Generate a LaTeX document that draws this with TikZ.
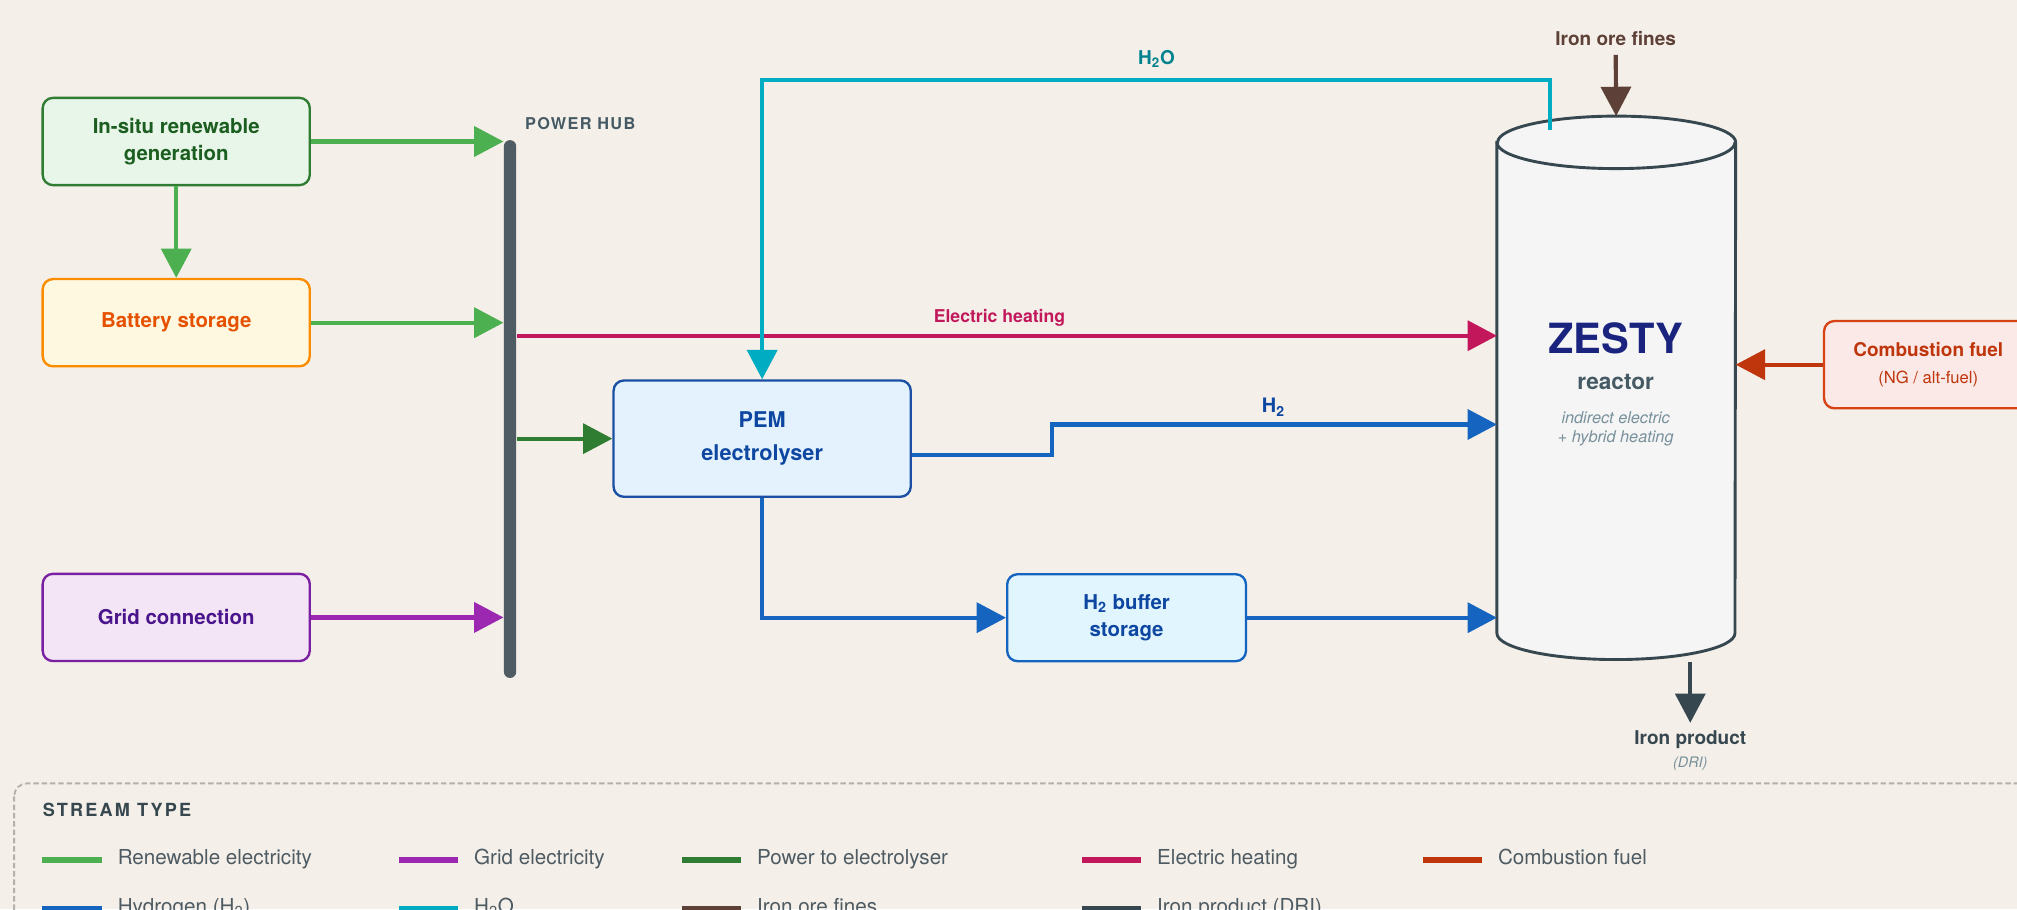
\documentclass[tikz,border=0pt]{standalone}
\usepackage{fontspec}
\setmainfont{TeX Gyre Heros}
\usetikzlibrary{arrows.meta,positioning}

\definecolor{paper}{HTML}{F4EFE8}
\definecolor{renewcol}{HTML}{4CAF50}
\definecolor{gridcol}{HTML}{9C27B0}
\definecolor{powercol}{HTML}{2E7D32}
\definecolor{heatcol}{HTML}{C2185B}
\definecolor{fuelcol}{HTML}{BF360C}
\definecolor{hydrocol}{HTML}{1565C0}
\definecolor{watercol}{HTML}{00ACC1}
\definecolor{orecol}{HTML}{5D4037}
\definecolor{prodcol}{HTML}{37474F}
\definecolor{hubcol}{HTML}{505C63}
\definecolor{slatecol}{HTML}{455A64}
\definecolor{mutedcol}{HTML}{78909C}
\definecolor{legendcol}{HTML}{4E5B63}
\definecolor{framecol}{HTML}{B4B1AB}
\definecolor{vesselfill}{HTML}{F5F5F5}
\definecolor{insitufill}{HTML}{E8F5E9}
\definecolor{insitutext}{HTML}{1B5E20}
\definecolor{batteryfill}{HTML}{FFF8E1}
\definecolor{batteryline}{HTML}{FB8C00}
\definecolor{batterytext}{HTML}{E65100}
\definecolor{gridfill}{HTML}{F3E5F5}
\definecolor{gridline}{HTML}{7B1FA2}
\definecolor{gridtext}{HTML}{4A148C}
\definecolor{pemfill}{HTML}{E3F2FD}
\definecolor{pemline}{HTML}{1A4FA3}
\definecolor{pemtext}{HTML}{0D47A1}
\definecolor{bufferfill}{HTML}{E1F5FE}
\definecolor{fuelfill}{HTML}{FBE9E7}
\definecolor{fuelline}{HTML}{D84315}
\definecolor{zestycol}{HTML}{1A237E}
\definecolor{watertext}{HTML}{00838F}

\tikzset{
  unit/.style={rectangle, draw, rounded corners=0.2cm, line width=1.3pt, align=center, inner sep=2pt,
    minimum width=5.19cm, minimum height=1.695cm, font=\fontsize{11.3}{15}\selectfont\bfseries},
  flow/.style={line width=2.3pt, -{Triangle[length=0.57cm,width=0.58cm]}},
  hubbar/.style={rectangle, fill=hubcol, inner sep=0pt, minimum width=0.24cm, minimum height=10.45cm, rounded corners=0.12cm},
  vesselbody/.style={rectangle, inner sep=0pt, minimum width=4.625cm, minimum height=9.525cm},
  vessel/.style={draw=prodcol, line width=1.6pt},
  tag/.style={anchor=base, inner sep=0pt, font=\fontsize{10.5}{12}\selectfont\bfseries},
  swatch/.style={rectangle, inner sep=0pt, minimum width=1.15cm, minimum height=0.105cm},
  legtext/.style={inner sep=0pt, text height=0.75em, text depth=0.25em, text=legendcol, font=\fontsize{11.4}{13}\selectfont}
}

\begin{document}
\begin{tikzpicture}[x=0.025cm, y=-0.025cm]
\path[use as bounding box, fill=paper] (0,0) rectangle (1568,707);

\node[unit, fill=insitufill, draw=powercol, text=insitutext] (insitu) at (137,110) {In-situ renewable\\generation};
\node[unit, fill=batteryfill, draw=batteryline, text=batterytext, below=1.78cm of insitu] (battery) {Battery storage};
\node[unit, fill=gridfill, draw=gridline, text=gridtext] (grid) at (137,480) {Grid connection};

\node[hubbar] (hub) at (396.5,318) {};
\node[anchor=base west, inner sep=0pt, text=slatecol, font=\fontsize{9}{9}\selectfont\bfseries\addfontfeature{LetterSpace=8}] (hubname) at (408,101) {POWER HUB};

\node[unit, minimum width=5.775cm, minimum height=2.26cm, fill=pemfill, draw=pemline, text=pemtext,
  font=\fontsize{12}{18.5}\selectfont\bfseries] (pem) at (592.5,341) {PEM\\electrolyser};
\node[unit, minimum width=4.64cm, minimum height=1.69cm, fill=bufferfill, draw=hydrocol, text=pemtext] (buffer) at (875.8,480.2) {H\textsubscript{2} buffer\\storage};

\node[vesselbody] (reactor) at (1256.5,301.5) {};
\filldraw[vessel, fill=vesselfill] (reactor.north west) -- (reactor.south west)
  arc[start angle=180, end angle=360, x radius=2.3125cm, y radius=0.51cm] -- (reactor.north east)
  arc[start angle=0, end angle=180, x radius=2.3125cm, y radius=0.51cm] -- cycle;
\draw[vessel] (reactor.north west) arc[start angle=180, end angle=360, x radius=2.3125cm, y radius=0.51cm];
\node[tag, text=zestycol, font=\fontsize{23}{23}\selectfont\bfseries] (zesty) at (1256,275) {ZESTY};
\node[tag, text=slatecol, font=\fontsize{12.5}{14}\selectfont\bfseries] (reactorname) at (1256,303) {reactor};
\node[tag, text=mutedcol, font=\fontsize{9}{10}\selectfont\itshape] (mode1) at (1256,329) {indirect electric};
\node[tag, text=mutedcol, font=\fontsize{9}{10}\selectfont\itshape] (mode2) at (1256,344) {+ hybrid heating};

\node[unit, minimum width=4.05cm, fill=fuelfill, draw=fuelline, text=fuelcol, font=\fontsize{10.5}{14}\selectfont\bfseries] (fuel) at (1499,283.5)
  {Combustion fuel\\[1.4pt]{\fontsize{9.2}{11}\selectfont\mdseries (NG / alt-fuel)}};

\node[tag, text=orecol] (ore) at (1256,35) {Iron ore fines};
\node[tag, text=prodcol] (prod) at (1314,579) {Iron product};
\node[tag, text=mutedcol, font=\fontsize{8}{9}\selectfont\itshape] (dri) at (1314,597) {(DRI)};

\coordinate (heatrow) at (0,261);
\coordinate (h2exit) at (0,354);
\coordinate (h2step) at (818,330);
\coordinate (wout) at (1205,101);
\coordinate (wtop) at (1205,62);
\coordinate (tap) at (1314,515);

\draw[flow, renewcol] (insitu.east) -- (insitu.east -| hub.west);
\draw[flow, renewcol] (insitu.south) -- (battery.north);
\draw[flow, renewcol] (battery.east) -- (battery.east -| hub.west);
\draw[flow, gridcol] (grid.east) -- (grid.east -| hub.west);
\draw[flow, powercol] (hub.east |- pem.west) -- (pem.west);
\draw[flow, heatcol] (hub.east |- heatrow) -- (reactor.west |- heatrow);
\node[tag, text=heatcol, font=\fontsize{9.75}{11}\selectfont\bfseries] (heatname) at (777,251) {Electric heating};
\draw[flow, hydrocol] (pem.east |- h2exit) -| (h2step) -- (reactor.west |- h2step);
\node[tag, text=pemtext, font=\fontsize{11}{12}\selectfont\bfseries] (h2name) at (990,321) {H\textsubscript{2}};
\draw[flow, hydrocol] (pem.south) |- (buffer.west);
\draw[flow, hydrocol] (buffer.east) -- (buffer.east -| reactor.west);
\draw[flow, watercol] (wout) -- (wtop) -| (pem.north);
\node[tag, text=watertext] (h2oname) at (899,50.5) {H\textsubscript{2}O};
\draw[flow, fuelcol] (fuel.west) -- (fuel.west -| reactor.east);
\draw[flow, orecol, shorten <=0.18cm, shorten >=0.51cm] (ore.south) -- (reactor.north);
\draw[flow, prodcol, shorten >=0.15cm] (tap) -- (prod.north);

\draw[framecol, line width=1pt, dash pattern=on 3pt off 1.6pt, rounded corners=0.25cm] (11,609) rectangle (1620,800);
\node[anchor=base west, inner sep=0pt, text=prodcol, font=\fontsize{10}{10}\selectfont\bfseries\addfontfeature{LetterSpace=12}] (legendname) at (33,635) {STREAM TYPE};

\node[swatch, fill=renewcol] (kRenew) at (56,668.5) {};
\node[legtext, right=0.3cm of kRenew] {Renewable electricity};
\node[swatch, fill=gridcol] (kGrid) at (333,668.5) {};
\node[legtext, right=0.3cm of kGrid] {Grid electricity};
\node[swatch, fill=powercol] (kPower) at (553,668.5) {};
\node[legtext, right=0.3cm of kPower] {Power to electrolyser};
\node[swatch, fill=heatcol] (kHeat) at (864,668.5) {};
\node[legtext, right=0.3cm of kHeat] {Electric heating};
\node[swatch, fill=fuelcol] (kFuel) at (1129,668.5) {};
\node[legtext, right=0.3cm of kFuel] {Combustion fuel};
\node[swatch, fill=hydrocol] (kHydro) at (56,706.5) {};
\node[legtext, right=0.3cm of kHydro] {Hydrogen (H\textsubscript{2})};
\node[swatch, fill=watercol] (kWater) at (333,706.5) {};
\node[legtext, right=0.3cm of kWater] {H\textsubscript{2}O};
\node[swatch, fill=orecol] (kOre) at (553,706.5) {};
\node[legtext, right=0.3cm of kOre] {Iron ore fines};
\node[swatch, fill=prodcol] (kProd) at (864,706.5) {};
\node[legtext, right=0.3cm of kProd] {Iron product (DRI)};
\end{tikzpicture}
\end{document}
